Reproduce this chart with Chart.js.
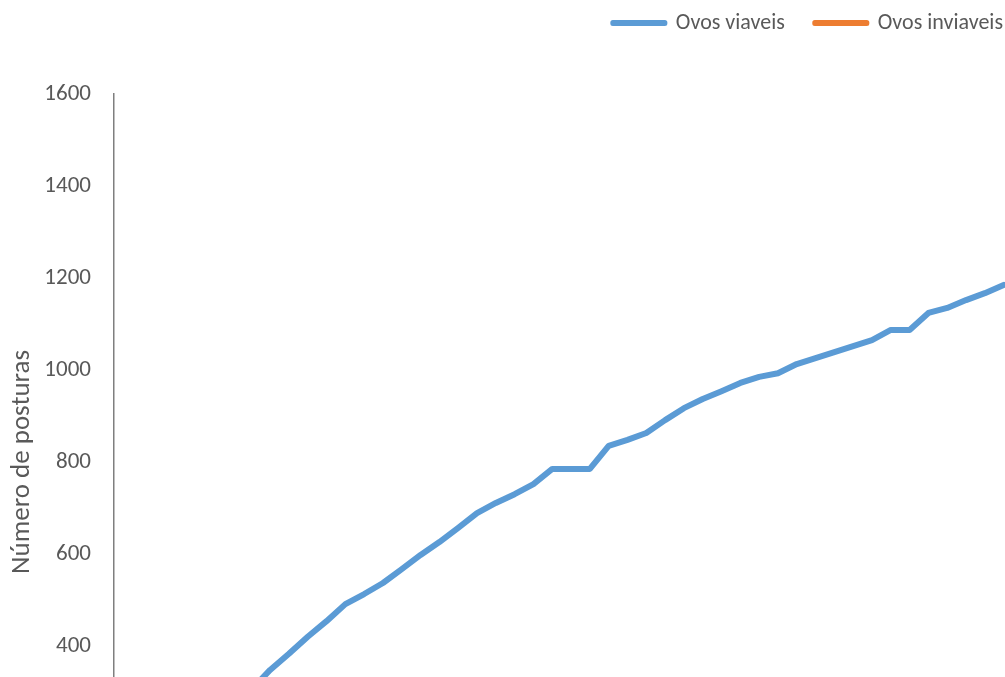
<!DOCTYPE html>
<html>
<head>
<meta charset="utf-8">
<script src="https://cdn.jsdelivr.net/npm/chart.js@4.4.0/dist/chart.umd.min.js"></script>
<style>
	html, body { margin: 0; padding: 0; overflow: hidden; background: #fff; }
	#wrap { width: 1033px; height: 890px; }
</style>
</head>
<body>
<div id="wrap"><canvas id="chart" width="1033" height="890"></canvas></div>
<script>
var dias = [1, 2, 3, 4, 5, 6, 7, 8, 9, 10, 11, 12, 13, 14, 15, 16, 17, 18, 19, 20, 21, 22, 23, 24,
	25, 26, 27, 28, 29, 30, 31, 32, 33, 34, 35, 36, 37, 38, 39, 40, 41, 42, 43, 44, 45, 46, 47, 48];

var ovosViaveis = [15, 50, 90, 130, 170, 215, 260, 305, 348, 383, 420, 454, 491, 513, 537, 567,
	598, 626, 657, 689, 711, 730, 752, 785, 785, 785, 835, 848, 863, 891, 917, 937,
	954, 972, 985, 993, 1013, 1026, 1039, 1052, 1065, 1087, 1087, 1124, 1135, 1152, 1167, 1185];

var ovosInviaveis = [0, 3, 6, 8, 12, 15, 19, 22, 25, 29, 33, 35, 38, 42, 46, 49,
	52, 55, 60, 63, 66, 70, 72, 74, 74, 74, 79, 82, 85, 88, 92, 95,
	99, 101, 104, 107, 111, 114, 116, 119, 123, 127, 127, 131, 134, 138, 141, 145];

var yTicks = [0, 200, 400, 600, 800, 1000, 1200, 1400, 1600];

var fonte = 'Carlito, Calibri, Lato, sans-serif';
var cinza = '#595959';

function pontos(valores) {
	return valores.map(function (v, i) { return { x: dias[i], y: v }; });
}

// extra room under the legend
var espacoLegenda = {
	id: 'espacoLegenda',
	beforeInit: function (chart) {
		var fitOrig = chart.legend.fit;
		chart.legend.fit = function () {
			fitOrig.bind(chart.legend)();
			this.height += 50;
		};
	}
};

var ctx = document.getElementById('chart');
var chart = new Chart(ctx, {
	type: 'line',
	data: {
		datasets: [{
			label: 'Ovos viaveis',
			data: pontos(ovosViaveis),
			borderColor: '#5B9BD5',
			backgroundColor: '#5B9BD5',
			borderWidth: 6,
			borderJoinStyle: 'round',
			borderCapStyle: 'round',
			pointRadius: 0,
			tension: 0
		}, {
			label: 'Ovos inviaveis',
			data: pontos(ovosInviaveis),
			borderColor: '#ED7D31',
			backgroundColor: '#ED7D31',
			borderWidth: 6,
			borderJoinStyle: 'round',
			borderCapStyle: 'round',
			pointRadius: 0,
			tension: 0
		}]
	},
	options: {
		responsive: false,
		animation: false,
		devicePixelRatio: 1,
		layout: { padding: { top: -18, right: 0, bottom: 0, left: 0 } },
		plugins: {
			legend: {
				position: 'top',
				align: 'end',
				labels: {
					boxWidth: 52,
					boxHeight: 1,
					padding: 30,
					color: cinza,
					font: { family: fonte, size: 22 },
					generateLabels: function (chart) {
						var itens = Chart.defaults.plugins.legend.labels.generateLabels(chart);
						itens.forEach(function (it) { it.lineWidth = 5; });
						return itens;
					}
				}
			},
			tooltip: { enabled: false }
		},
		scales: {
			x: {
				type: 'linear',
				min: 0.7,
				max: 49.56,
				grid: { display: false, drawTicks: false },
				border: { display: true, color: '#7f7f7f', width: 1.5 },
				ticks: { display: false },
				afterFit: function (scale) { scale.height = 60; }
			},
			y: {
				min: 0,
				max: 1600,
				afterBuildTicks: function (scale) {
					scale.ticks = yTicks.map(function (v) { return { value: v }; });
				},
				afterFit: function (scale) { scale.width = 114; },
				grid: { display: false, drawTicks: false },
				border: { display: true, color: '#7f7f7f', width: 1.5 },
				ticks: {
					padding: 23,
					color: cinza,
					font: { family: fonte, size: 23 },
					callback: function (v) { return String(v); }
				},
				title: {
					display: true,
					text: 'Número de posturas',
					color: cinza,
					font: { family: fonte, size: 27 },
					padding: { top: 6, bottom: 10 }
				}
			}
		}
	},
	plugins: [espacoLegenda]
});
</script>
</body>
</html>
